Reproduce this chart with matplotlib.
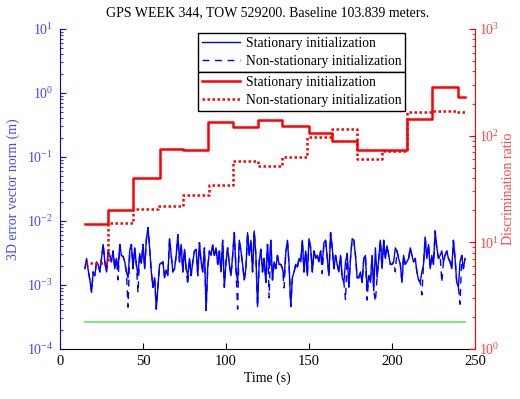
import numpy as np
import matplotlib
matplotlib.use('Agg')
import matplotlib.pyplot as plt
from matplotlib.ticker import LogLocator, LogFormatterSciNotation, NullFormatter

plt.rcParams['font.family'] = 'Liberation Serif'
plt.rcParams['mathtext.fontset'] = 'custom'
plt.rcParams['mathtext.rm'] = 'Liberation Serif'
plt.rcParams['mathtext.it'] = 'Liberation Serif:italic'
plt.rcParams['font.size'] = 10

# 3D error norm, stationary init (mm), one sample per second from t=15 to t=244
err_t = list(range(15, 245))
err_stat_mm = [
    1.8, 2.6, 1.7, 1.2, 0.77, 1.6, 1.4, 2.3, 2.1, 1.6,
    2.6, 4.3, 2.3, 1.6, 3.4, 2.9, 2.3, 3.4, 1.8, 2.6,
    1.8, 4.3, 2.9, 2.8, 2.3, 1.6, 1.3, 3.4, 4.3, 1.8,
    3.8, 2.1, 1.4, 3.1, 2.2, 4.3, 1.8, 5.0, 7.9, 3.8,
    1.6, 0.92, 1.3, 0.42, 0.92, 2.1, 2.2, 2.3, 1.3, 1.7,
    1.4, 5.3, 2.9, 1.6, 1.8, 2.9, 6.1, 2.3, 4.3, 1.6,
    3.6, 1.8, 1.4, 2.6, 1.4, 2.3, 3.4, 3.6, 1.4, 4.6,
    2.3, 1.6, 3.8, 0.40, 1.9, 3.4, 2.9,
    4.2, 2.9, 3.8, 2.1, 3.4, 1.6, 5.0, 0.92, 2.3, 3.8,
    2.1, 1.4, 2.9, 6.6, 1.8, 1.1, 5.0, 3.4, 2.1, 1.2,
    1.8, 6.6, 2.9, 5.0, 1.6, 7.0, 2.9, 0.46, 2.3, 3.6,
    1.6, 2.6, 1.1, 4.3, 1.8, 5.0, 1.2, 2.3, 1.8, 2.9,
    2.1, 2.1, 1.8, 1.3, 3.1, 5.0, 2.1, 0.46, 1.3, 1.6,
    2.1, 1.9, 2.6, 2.3, 5.0, 1.6, 3.4, 1.4, 5.3, 3.8,
    1.6, 3.4, 2.6, 2.9, 2.3, 3.4, 2.1, 4.6, 5.0, 2.6,
    1.4, 6.6, 3.8, 1.8, 2.9, 2.1,
    1.6, 2.9, 1.3, 1.1, 2.3, 3.1, 0.92, 2.6, 5.3, 5.0,
    2.9, 1.3, 1.3, 1.6, 1.1, 2.6, 2.9, 0.81, 1.4, 1.1,
    2.9, 0.81, 3.8, 1.3, 2.6, 5.0, 1.8, 5.0, 2.6, 4.1,
    2.9, 2.1, 2.1, 2.3, 3.8, 3.4, 2.6, 2.1, 1.1, 2.9,
    2.1, 2.3, 2.6, 3.8, 2.9, 2.3, 2.6, 1.6, 1.2, 1.1,
    1.6, 2.1, 5.6, 2.6, 4.3, 1.8, 2.9, 2.1, 7.0, 3.8,
    2.6, 2.9, 3.4, 2.3, 2.9, 3.4, 2.6, 2.3, 1.8, 5.0,
    2.6, 1.1, 0.92, 2.3, 2.9, 1.8, 2.6,
]
# non-stationary init follows the same track except at these seconds (mm)
err_nonstat_diff = {35: 1.2, 41: 0.45, 47: 0.75, 77: 1.0, 107: 0.42, 126: 0.63,
                    135: 0.9, 158: 1.5, 172: 0.58, 185: 0.58, 190: 0.55, 202: 1.6,
                    218: 0.7, 230: 1.1, 241: 0.5}

# discrimination ratio, step levels
stat_t = [15, 29, 44, 60, 74, 89, 104, 119, 134, 150, 164, 179, 209, 224, 240, 244]
stat_v = [14.9, 20, 40, 75, 73, 135, 120, 140, 123, 107, 89, 73, 142, 286, 232, 232]
nonstat_t = [15, 29, 44, 59, 74, 90, 104, 119, 134, 149, 164, 179, 194, 209, 224, 240, 244]
nonstat_v = [6.45, 15.3, 20.5, 22, 27.7, 34.4, 58, 52, 63, 98, 115, 60, 72, 165, 171, 165, 165]

green_t = [15, 244]
green_v = [2.6e-4, 2.6e-4]

err_stat = [v * 1e-3 for v in err_stat_mm]
err_nonstat = [err_nonstat_diff.get(t, v) * 1e-3 for t, v in zip(err_t, err_stat_mm)]

fig = plt.figure(figsize=(5.2, 3.99), dpi=100)
ax1 = fig.add_axes([60/520, 1-349/399, 415/520, 320/399])
ax2 = ax1.twinx()

blue_lbl = '#4646ff'
red_lbl = '#ff4646'

l1, = ax1.plot(err_t, err_stat, color='blue', lw=1, label='Stationary initialization')
l2, = ax1.plot(err_t, err_nonstat, color='blue', lw=1, ls=(0, (5, 4)), label='Non-stationary initialization')
ax1.plot(green_t, green_v, color='#55ee55', lw=1.2)

l3, = ax2.step(stat_t, stat_v, where='post', color='red', lw=1.8, label='Stationary initialization')
l4, = ax2.step(nonstat_t, nonstat_v, where='post', color='red', lw=1.8, ls=(0, (1, 1)), label='Non-stationary initialization')

ax1.set_yscale('log')
ax2.set_yscale('log')
ax1.set_ylim(1e-4, 1e1)
ax2.set_ylim(1e0, 1e3)
ax1.set_xlim(0, 250)
ax1.set_xticks([0, 50, 100, 150, 200, 250])

for ax in (ax1, ax2):
    ax.yaxis.set_major_locator(LogLocator(base=10, numticks=10))
    ax.yaxis.set_minor_locator(LogLocator(base=10, subs=np.arange(2, 10), numticks=10))
    ax.yaxis.set_major_formatter(LogFormatterSciNotation())
    ax.yaxis.set_minor_formatter(NullFormatter())
    ax.spines['top'].set_visible(False)

ax1.spines['left'].set_color('blue')
ax1.spines['right'].set_visible(False)
ax2.spines['left'].set_visible(False)
ax2.spines['right'].set_color('red')
ax2.spines['bottom'].set_visible(False)

ax1.tick_params(axis='y', which='both', direction='in', colors='blue', labelcolor=blue_lbl, labelsize=10)
ax1.tick_params(axis='y', which='major', length=4, pad=5)
ax1.tick_params(axis='y', which='minor', length=2)
ax2.tick_params(axis='y', which='both', direction='in', colors='red', labelcolor=red_lbl, labelsize=10)
ax2.tick_params(axis='y', which='major', length=4, pad=3)
ax2.tick_params(axis='y', which='minor', length=2)
ax1.tick_params(axis='x', direction='in', length=4, labelsize=10.5, pad=4)

ax1.set_ylabel('3D error vector norm (m)', color=blue_lbl, fontsize=10, labelpad=5)
ax2.set_ylabel('Discrimination ratio', color=red_lbl, fontsize=10, labelpad=2)
ax1.set_xlabel('Time (s)', fontsize=10, labelpad=3)
ax1.set_title('GPS WEEK 344, TOW 529200. Baseline 103.839 meters.', fontsize=10, pad=9)

leg_kw = dict(loc='upper left', fancybox=False, edgecolor='black', framealpha=1,
              fontsize=9.8, handlelength=2.8, borderpad=0.3, labelspacing=0.35,
              handletextpad=0.4, borderaxespad=0)
leg1 = ax1.legend(handles=[l1, l2], bbox_to_anchor=(0.3325, 0.9875), **leg_kw)
leg1.get_frame().set_linewidth(1)
leg2 = ax2.legend(handles=[l3, l4], bbox_to_anchor=(0.3325, 0.866), **leg_kw)
leg2.get_frame().set_linewidth(1)

fig.savefig('out.png', dpi=100)
